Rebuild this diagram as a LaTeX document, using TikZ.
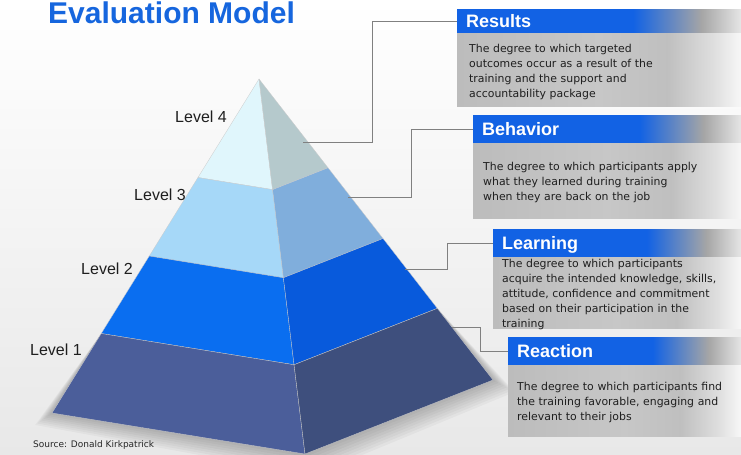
\documentclass[tikz,border=0pt]{standalone}
\usepackage{fontspec}
\setmainfont{Liberation Sans}
\newfontfamily\bodyfont{DejaVu Sans}
\usetikzlibrary{calc}
\definecolor{titleblue}{RGB}{22,102,222}
\definecolor{hblue}{RGB}{18,98,228}
\definecolor{bgray}{RGB}{188,188,188}
\definecolor{l4a}{RGB}{224,246,252}
\definecolor{l4b}{RGB}{181,201,204}
\definecolor{l3a}{RGB}{166,216,248}
\definecolor{l3b}{RGB}{128,174,220}
\definecolor{l2a}{RGB}{10,110,240}
\definecolor{l2b}{RGB}{8,90,220}
\definecolor{l1a}{RGB}{75,94,154}
\definecolor{l1b}{RGB}{62,79,125}
\pgfdeclarehorizontalshading{hdrshade}{100bp}{color(0bp)=(hblue); color(25bp)=(hblue); color(56bp)=(hblue); color(68bp)=(black!35); color(75bp)=(black!10); color(100bp)=(black!10)}
\pgfdeclarehorizontalshading{bodyshade}{100bp}{color(0bp)=(bgray); color(25bp)=(bgray); color(50bp)=(black!22); color(62bp)=(black!25); color(70bp)=(black!13); color(75bp)=(black!3); color(100bp)=(black!3)}
\tikzset{
  face/.style={draw=black!20, line width=0.3bp, line join=round},
  hdrbox/.style={shade, shading=hdrshade, anchor=north west, inner xsep=9bp, inner ysep=0pt,
     align=left, text=white, text height=13bp, text depth=0bp,
     font=\fontsize{18bp}{18bp}\selectfont\bfseries},
  bodybox/.style={shade, shading=bodyshade, anchor=north west, inner sep=0pt},
  bodytext/.style={anchor=base west, inner sep=0pt, align=left, text width=235bp,
     text=black!88, font=\bodyfont\fontsize{10.9bp}{15bp}\selectfont},
  lvl/.style={anchor=east, inner sep=0pt, text=black!88, font=\fontsize{16bp}{16bp}\selectfont},
  conn/.style={draw=black!50, line width=0.8bp}
}
\begin{document}
\begin{tikzpicture}[x=1bp,y=-1bp]
\useasboundingbox (0,0) rectangle (741,455);
\shade[top color=white, bottom color=black!9] (0,0) rectangle (741,455);

% pyramid geometry
\coordinate (A) at (259,79);
\coordinate (BL) at (52,413);
\coordinate (BF) at (305,454);
\coordinate (BR) at (493,380);
\foreach \n/\t in {1/0.295,2/0.53,3/0.762}{
  \coordinate (L\n) at ($(A)!\t!(BL)$);
  \coordinate (F\n) at ($(A)!\t!(BF)$);
  \coordinate (R\n) at ($(A)!\t!(BR)$);
}
% soft shadow
\foreach \s in {3,6,...,24}{
  \fill[black, opacity=0.03] (L3) -- ($(BL)+(-0.7*\s,0.5*\s)$) -- ($(BF)+(0.3*\s,0.9*\s)$) -- ($(BR)+(0.9*\s,0.5*\s)$) -- (R3) -- cycle;
}
% level 4
\fill[l4a, face] (A) -- (L1) -- (F1) -- cycle;
\fill[l4b, face] (A) -- (F1) -- (R1) -- cycle;
% level 3
\fill[l3a, face] (L1) -- (L2) -- (F2) -- (F1) -- cycle;
\fill[l3b, face] (F1) -- (F2) -- (R2) -- (R1) -- cycle;
% level 2
\fill[l2a, face] (L2) -- (L3) -- (F3) -- (F2) -- cycle;
\fill[l2b, face] (F2) -- (F3) -- (R3) -- (R2) -- cycle;
% level 1
\fill[l1a, face] (L3) -- (BL) -- (BF) -- (F3) -- cycle;
\fill[l1b, face] (F3) -- (BF) -- (BR) -- (R3) -- cycle;

% title
\node[anchor=base west, inner sep=0pt, text=titleblue, font=\fontsize{30bp}{30bp}\selectfont\bfseries] (title) at (48,24) {Evaluation Model};

% level labels
\node[lvl] (lv4) at (227,117) {Level 4};
\node[lvl] (lv3) at (186,195) {Level 3};
\node[lvl] (lv2) at (133,269) {Level 2};
\node[lvl] (lv1) at (82,350) {Level 1};

% boxes
\node[hdrbox, minimum width=284bp, minimum height=24bp, text width=266bp] (resHdr) at (457,9) {Results};
\node[bodybox, minimum width=284bp, minimum height=73bp] (resBody) at (resHdr.south west) {};
\node[bodytext] (resTxt) at (469,53) {The degree to which targeted\\outcomes occur as a result of the\\training and the support and\\accountability package};

\node[hdrbox, minimum width=268bp, minimum height=28bp, text width=250bp] (behHdr) at (473,115) {Behavior};
\node[bodybox, minimum width=268bp, minimum height=75bp] (behBody) at (behHdr.south west) {};
\node[bodytext] (behTxt) at (483,171) {The degree to which participants apply\\what they learned during training\\when they are back on the job};

\node[hdrbox, minimum width=248bp, minimum height=28bp, text width=230bp] (lrnHdr) at (493,229) {Learning};
\node[bodybox, minimum width=248bp, minimum height=71bp] (lrnBody) at (lrnHdr.south west) {};
\node[bodytext] (lrnTxt) at (502,268) {The degree to which participants\\acquire the intended knowledge, skills,\\attitude, confidence and commitment\\based on their participation in the\\training};

\node[hdrbox, minimum width=233bp, minimum height=28bp, text width=215bp] (reaHdr) at (508,337) {Reaction};
\node[bodybox, minimum width=233bp, minimum height=71bp] (reaBody) at (reaHdr.south west) {};
\node[bodytext] (reaTxt) at (517,390) {The degree to which participants find\\the training favorable, engaging and\\relevant to their jobs};

% connectors
\coordinate (p4) at (303,142);
\coordinate (p3) at (348,197);
\coordinate (p2) at (405,269);
\coordinate (p1) at (452,327);
\draw[conn] (p4) -| ([xshift=-85bp]resHdr.west) -- (resHdr.west);
\draw[conn] (p3) -| ([xshift=-62bp]behHdr.west) -- (behHdr.west);
\draw[conn] (p2) -| ([xshift=-46bp]lrnHdr.west) -- (lrnHdr.west);
\draw[conn] (p1) -| ([xshift=-28bp]reaHdr.west) -- (reaHdr.west);

% source
\node[anchor=west, inner sep=0pt, text=black!85, font=\bodyfont\fontsize{9bp}{10bp}\selectfont] (src) at (33,445) {Source: Donald Kirkpatrick};
\end{tikzpicture}
\end{document}
